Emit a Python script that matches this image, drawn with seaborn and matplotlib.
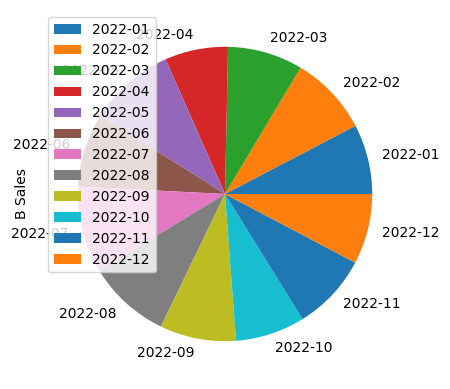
import matplotlib
matplotlib.use("Agg")
import matplotlib.pyplot as plt
import seaborn as sns
import pandas as pd

months = ["2022-01", "2022-02", "2022-03", "2022-04", "2022-05", "2022-06",
          "2022-07", "2022-08", "2022-09", "2022-10", "2022-11", "2022-12"]
b_sales = [276, 315, 297, 250, 340, 293, 343, 328, 301, 275, 304, 278]

df = pd.DataFrame({"B Sales": b_sales}, index=months)

colors = sns.color_palette("tab10", 10)
colors = [colors[i % 10] for i in range(len(months))]

fig = plt.figure(figsize=(4.5, 3.89), dpi=100)
ax = fig.add_axes([41 / 450, (389 - 378) / 389, 368 / 450, 368 / 389])
wedges, texts = ax.pie(df["B Sales"], labels=df.index, colors=colors)
ax.set_xlim(-1.25, 1.25)
ax.set_ylim(-1.25, 1.25)
ax.set_aspect("equal")
ax.set_ylabel("B Sales", labelpad=8.5)
ax.legend(wedges, df.index, loc="upper left")
fig.savefig("out.png", dpi=100)
